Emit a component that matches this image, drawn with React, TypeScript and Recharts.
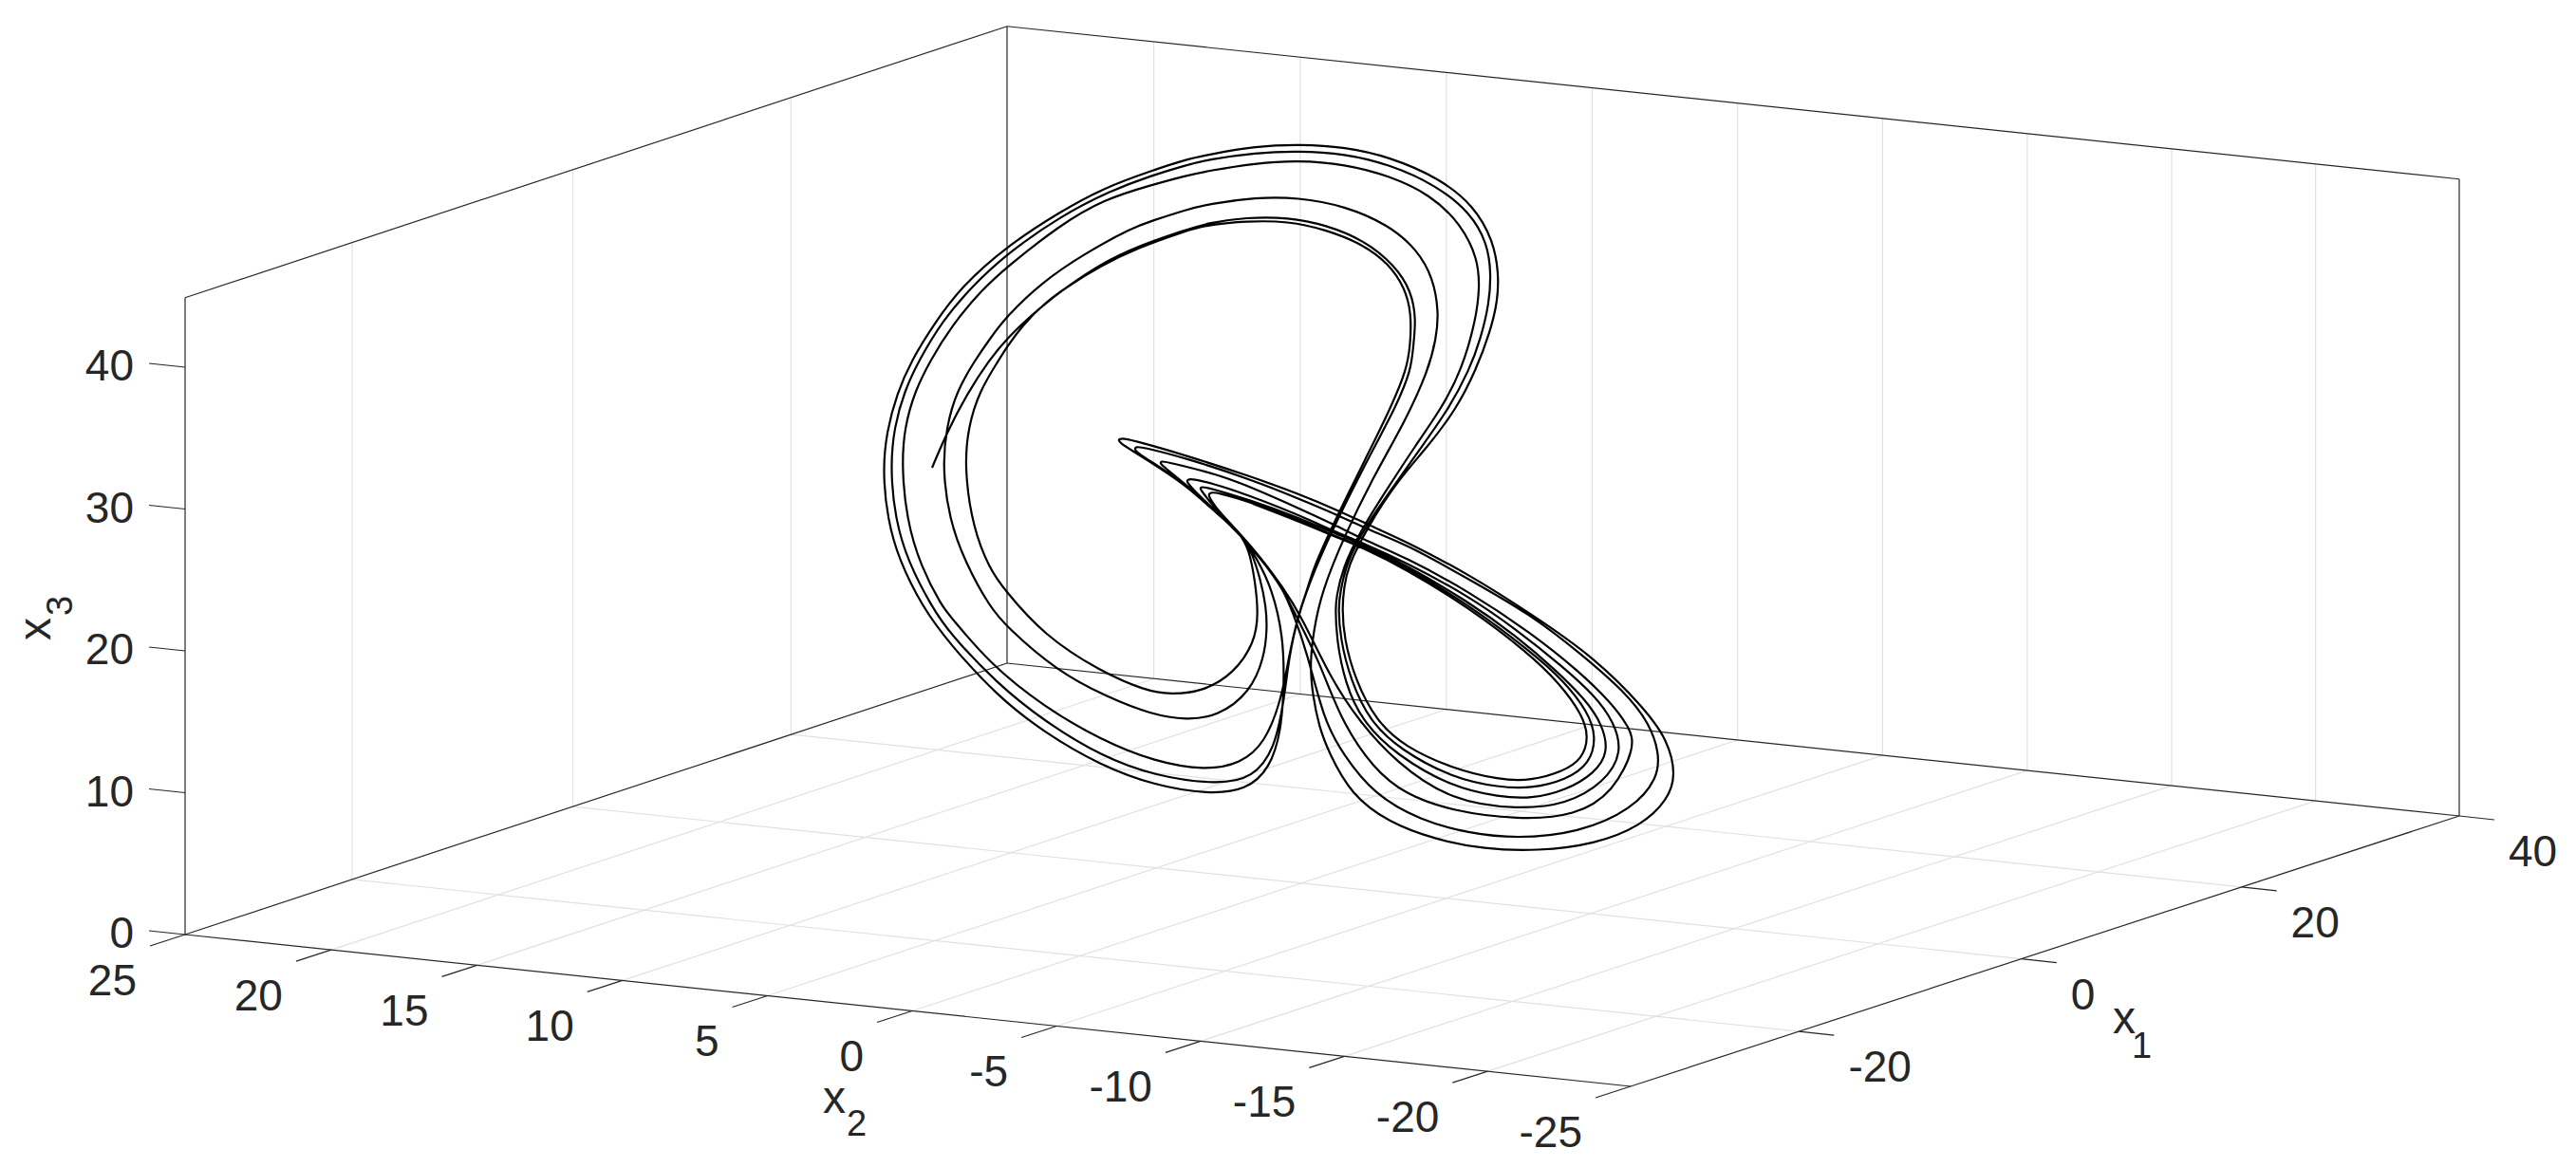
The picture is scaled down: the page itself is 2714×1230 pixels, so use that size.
import React from "react";
import { ComposedChart, Line, XAxis, YAxis, ReferenceLine, ReferenceDot } from "recharts";

// tick values of the three axes
const x1Ticks = [-20, 0, 20, 40];
const x2Ticks = [25, 20, 15, 10, 5, 0, -5, -10, -15, -20, -25];
const x3Ticks = [0, 10, 20, 30, 40];
const x1Range = [-35, 40];
const x2Range = [25, -25];
const x3Max = 44.9;

// the trajectory as seen on the image plane, [horizontal, vertical]
const ringF = [[982,493],[982,493],[997,457],[1020,413],[1042,380],[1060,357],[1097,323],[1123,303],[1160,278],[1197,260],[1250,242],[1273,235],[1313,229],[1357,229],[1397,237],[1437,253],[1470,280],[1487,307],[1492,337],[1489,363],[1487,390],[1470,430],[1450,467],[1410,545],[1385,600],[1367,650]];
const lobeB = [[1358,693],[1353,737],[1343,790],[1320,820],[1283,827],[1217,818],[1160,797],[1100,760],[1050,720],[1000,667],[982,640],[957,593],[943,547],[938,493],[942,450],[953,412],[968,380]];
const ringB = [[993,338],[1023,303],[1060,268],[1117,228],[1170,201],[1213,185],[1250,174],[1273,168],[1323,161],[1367,159],[1417,162],[1463,173],[1513,195],[1550,225],[1567,257],[1571,287],[1569,320],[1560,357],[1548,390]];
const wing2 = [[1527,430],[1497,472],[1468,513],[1437,557],[1418,595],[1412,625],[1410,640],[1412,673],[1423,717],[1443,760],[1475,790],[1530,820],[1580,830],[1613,831],[1650,822],[1675,805],[1682,777],[1673,750],[1647,717],[1613,687],[1547,637],[1480,597],[1435,575],[1410,567],[1367,547],[1317,529],[1282,519],[1275,519],[1273,522],[1276,527],[1283,538]];
const wing4 = [[1307,563],[1330,590],[1350,617],[1370,647],[1403,717],[1432,760],[1470,803],[1530,845],[1600,853],[1650,848],[1690,825],[1710,793],[1700,760],[1680,733],[1647,703],[1597,663],[1547,628],[1480,592],[1435,572],[1410,562],[1367,542],[1300,516],[1260,505],[1252,505],[1250,507],[1254,513],[1283,541]];
const wing5 = [[1307,564],[1330,591],[1350,618],[1366,650],[1390,697],[1413,760],[1447,810],[1480,837],[1530,855],[1600,864],[1660,860],[1700,835],[1723,787],[1717,767],[1697,740],[1663,707],[1613,667],[1547,623],[1480,587],[1435,568],[1410,555],[1367,535],[1317,513],[1283,500],[1230,487],[1224,486],[1222,488],[1226,492],[1250,511],[1283,541]];
const wing6 = [[1307,563],[1330,590],[1350,617],[1362,645],[1377,687],[1395,760],[1415,795],[1447,837],[1497,865],[1547,878],[1597,884],[1663,878],[1720,853],[1747,820],[1748,793],[1738,763],[1713,730],[1663,687],[1613,648],[1547,610],[1480,573],[1450,562],[1410,543],[1367,525],[1317,505],[1250,483],[1203,471],[1197,471],[1195,473],[1199,478],[1220,491],[1250,511],[1283,541],[1307,563]];
const lobeD = [[1318,580],[1328,610],[1334,640],[1335,663],[1332,693],[1317,730],[1283,755],[1250,759],[1213,753],[1167,735],[1113,707],[1060,660],[1043,640],[1017,593],[1000,547],[993,493],[997,450],[1008,412],[1027,380]];
const ringD = [[1043,357],[1060,334],[1097,298],[1143,267],[1193,240],[1213,233],[1250,221],[1273,215],[1323,208],[1367,208],[1417,217],[1463,237],[1493,263],[1510,293],[1516,330],[1513,357],[1505,390]];
const wing7 = [[1480,445],[1450,497],[1417,563],[1392,625],[1384,665],[1380,700],[1383,733],[1390,767],[1400,793],[1423,837],[1463,867],[1513,885],[1563,895],[1620,897],[1680,890],[1730,870],[1757,843],[1766,817],[1757,780],[1733,747],[1680,693],[1613,647],[1547,605],[1480,570],[1450,557],[1410,538],[1367,520],[1317,502],[1250,480],[1190,463],[1182,462],[1178,463],[1180,467],[1193,475],[1220,492],[1250,512],[1283,542],[1307,562]];
const lobeE = [[1316,580],[1322,610],[1326,647],[1322,677],[1300,710],[1267,729],[1233,732],[1207,728],[1160,708],[1100,670],[1057,620],[1043,600],[1025,557],[1016,493],[1020,450],[1032,412],[1052,380]];
const ringE = [[1060,367],[1077,343],[1100,320],[1123,303],[1160,280],[1197,262],[1250,243],[1273,237],[1313,233],[1357,233],[1397,242],[1437,258],[1463,278],[1480,303],[1487,330],[1486,363],[1482,390],[1465,430],[1447,467],[1408,545],[1383,600],[1378,620],[1367,650]];
const lobeC = [[1357,697],[1350,737],[1333,783],[1307,805],[1270,812],[1217,803],[1160,780],[1100,745],[1043,700],[1000,648],[993,640],[970,597],[955,547],[950,490],[953,450],[964,412],[980,380]];
const ringC = [[1003,343],[1033,307],[1060,282],[1117,237],[1163,210],[1213,195],[1250,185],[1273,180],[1323,172],[1367,169],[1417,173],[1463,185],[1507,205],[1540,237],[1557,273],[1559,303],[1555,337],[1540,390]];
const wing3 = [[1519,430],[1491,470],[1463,513],[1433,560],[1414,600],[1408,630],[1407,640],[1408,673],[1417,720],[1435,760],[1470,795],[1530,830],[1580,840],[1613,842],[1650,833],[1680,815],[1695,793],[1688,763],[1670,737],[1640,707],[1597,670],[1547,634],[1480,595],[1435,573],[1410,564],[1367,545],[1317,527],[1273,514],[1266,513],[1264,515],[1268,520],[1283,540],[1307,562]];
const lobeA = [[1325,590],[1340,620],[1352,670],[1353,720],[1350,770],[1338,810],[1313,833],[1273,837],[1217,828],[1160,807],[1100,772],[1050,733],[1000,678],[972,640],[947,590],[935,547],[930,497],[934,455],[945,415],[960,380]];
const ringA = [[985,340],[1013,302],[1060,260],[1117,223],[1163,198],[1213,180],[1250,168],[1273,163],[1323,154],[1370,152],[1417,155],[1463,165],[1517,188],[1553,217],[1573,253],[1579,287],[1578,317],[1570,350],[1555,390]];
const wing1 = [[1535,430],[1505,470],[1472,507],[1440,557],[1420,597],[1416,620],[1414,640],[1416,673],[1428,717],[1450,760],[1480,787],[1530,810],[1580,822],[1613,823],[1647,813],[1667,800],[1674,777],[1667,753],[1643,720],[1610,688],[1547,640],[1480,599],[1435,577],[1410,567],[1367,549],[1320,531]];

const trajectory = [
  ringF, lobeB, ringB, wing2, wing4, wing5, wing6, lobeD, ringD, wing7,
  lobeE, ringE, lobeC, ringC, wing3, lobeA, ringA, wing1,
].flat().map(([h, v]) => ({ h, v }));

const W = 2714;
const H = 1230;
const BOX = "#262626";
const GRID = "#e1e1e1";
const FONT = "'Liberation Sans', Arial, sans-serif";

// corners of the box floor on the image, with a slight perspective warp along both edges
const FL = [195, 985];
const FR = [1718, 1145];
const BL = [1061, 699];
const BR = [2591, 860];
function project(x1: number, x2: number, x3: number) {
  const s = (25 - x2) / 50;
  const t = s * (1 + 0.012 * (1 - s));
  const b = (40 - x1) / 75;
  const u = 1 - b * (1 - 0.02 * (1 - b));
  const low = [FL[0] + (FR[0] - FL[0]) * t, FL[1] + (FR[1] - FL[1]) * t];
  const high = [BL[0] + (BR[0] - BL[0]) * t, BL[1] + (BR[1] - BL[1]) * t];
  return {
    x: low[0] + (high[0] - low[0]) * u,
    y: low[1] + (high[1] - low[1]) * u - x3 * 14.95,
  };
}

type Seg = { a: { x: number; y: number }; b: { x: number; y: number }; c: string };

const seg = (a: { x: number; y: number }, b: { x: number; y: number }, c: string): Seg => ({ a, b, c });
const offset = (p: { x: number; y: number }, dx: number, dy: number) => ({ x: p.x + dx, y: p.y + dy });

const [x1Lo, x1Hi] = x1Range;
const [x2Hi, x2Lo] = x2Range;

const segments: Seg[] = [
  // grid first, so the box sits on top
  ...x1Ticks.filter((v) => v !== x1Hi).flatMap((v) => [
    seg(project(v, x2Hi, 0), project(v, x2Lo, 0), GRID),
    seg(project(v, x2Hi, 0), project(v, x2Hi, x3Max), GRID),
  ]),
  ...x2Ticks.filter((v) => v !== x2Hi && v !== x2Lo).flatMap((v) => [
    seg(project(x1Lo, v, 0), project(x1Hi, v, 0), GRID),
    seg(project(x1Hi, v, 0), project(x1Hi, v, x3Max), GRID),
  ]),
  seg(project(x1Hi, x2Lo, 0), project(x1Hi, x2Lo, x3Max), BOX),
  seg(project(x1Hi, x2Hi, 0), project(x1Hi, x2Hi, x3Max), BOX),
  seg(project(x1Lo, x2Hi, 0), project(x1Lo, x2Hi, x3Max), BOX),
  seg(project(x1Lo, x2Hi, x3Max), project(x1Hi, x2Hi, x3Max), BOX),
  seg(project(x1Hi, x2Hi, x3Max), project(x1Hi, x2Lo, x3Max), BOX),
  seg(project(x1Lo, x2Hi, 0), project(x1Hi, x2Hi, 0), BOX),
  seg(project(x1Hi, x2Hi, 0), project(x1Hi, x2Lo, 0), BOX),
  seg(project(x1Lo, x2Hi, 0), project(x1Lo, x2Lo, 0), BOX),
  seg(project(x1Lo, x2Lo, 0), project(x1Hi, x2Lo, 0), BOX),
  ...x2Ticks.map((v) => seg(project(x1Lo, v, 0), offset(project(x1Lo, v, 0), -37, 12), BOX)),
  ...x1Ticks.map((v) => seg(project(v, x2Lo, 0), offset(project(v, x2Lo, 0), 37, 4), BOX)),
  ...x3Ticks.map((v) => seg(project(x1Lo, x2Hi, v), offset(project(x1Lo, x2Hi, v), -38, -4), BOX)),
];

type Note = {
  x: number;
  y: number;
  text: string;
  size: number;
  anchor: "start" | "end";
  rotate?: boolean;
};

const notes: Note[] = [
  ...x2Ticks.map((v): Note => {
    const p = project(x1Lo, v, 0);
    return { x: p.x - 51, y: p.y + 64, text: String(v), size: 46, anchor: "end" };
  }),
  ...x1Ticks.map((v): Note => {
    const p = project(v, x2Lo, 0);
    return { x: p.x + 52, y: p.y + 53, text: String(v), size: 46, anchor: "start" };
  }),
  ...x3Ticks.map((v): Note => {
    const p = project(x1Lo, x2Hi, v);
    return { x: 141, y: p.y + 14, text: String(v), size: 46, anchor: "end" };
  }),
  { x: 2226, y: 1089, text: "x", size: 48, anchor: "start" },
  { x: 2246, y: 1115, text: "1", size: 38, anchor: "start" },
  { x: 867, y: 1173, text: "x", size: 48, anchor: "start" },
  { x: 892, y: 1197, text: "2", size: 38, anchor: "start" },
  { x: 53, y: 675, text: "x", size: 48, anchor: "start", rotate: true },
  { x: 76, y: 649, text: "3", size: 38, anchor: "start", rotate: true },
];

export default function App() {
  return (
    <div style={{ position: "absolute", left: 0, top: 0, width: W, height: H, background: "#fff" }}>
      <ComposedChart width={W} height={H} data={trajectory} margin={{ top: 0, right: 0, bottom: 0, left: 0 }}>
        <XAxis type="number" dataKey="h" domain={[0, W]} hide />
        <YAxis type="number" dataKey="v" domain={[0, H]} reversed hide />
        {segments.map((s, i) => (
          <ReferenceLine
            key={i}
            segment={[s.a, s.b]}
            stroke={s.c}
            strokeWidth={1.2}
            ifOverflow="visible"
          />
        ))}
        <Line
          dataKey="v"
          type="basis"
          stroke="#000"
          strokeWidth={2.2}
          dot={false}
          activeDot={false}
          isAnimationActive={false}
        />
        {notes.map((n, i) => (
          <ReferenceDot
            key={i}
            x={n.x}
            y={n.y}
            r={0}
            ifOverflow="visible"
            shape={(p: any) => (
              <text
                x={p.cx}
                y={p.cy}
                textAnchor={n.anchor}
                fontFamily={FONT}
                fontSize={n.size}
                fill={BOX}
                transform={n.rotate ? `rotate(-90 ${p.cx} ${p.cy})` : undefined}
              >
                {n.text}
              </text>
            )}
          />
        ))}
      </ComposedChart>
    </div>
  );
}
